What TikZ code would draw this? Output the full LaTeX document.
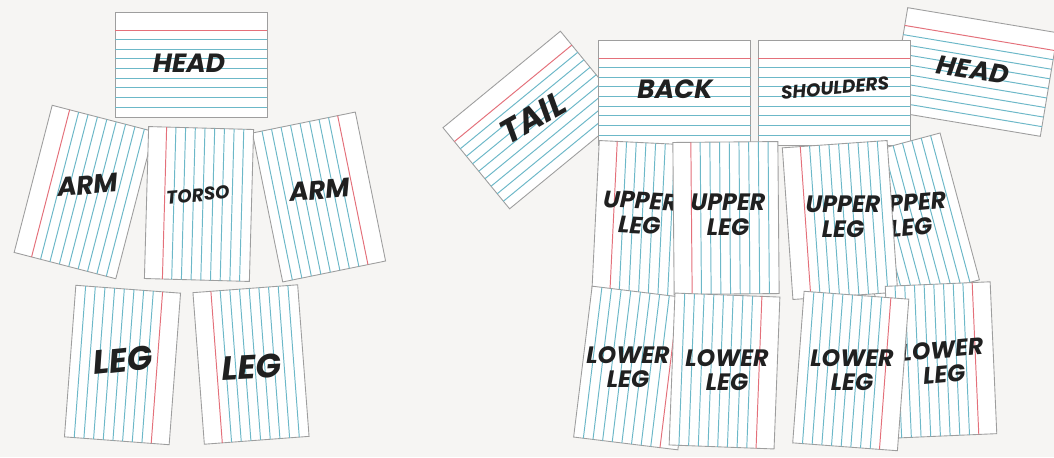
\documentclass[tikz,border=0pt]{standalone}
\usepackage{fontspec}
\newfontfamily\markerfont{Poppins}
\definecolor{deskbg}{RGB}{246,245,243}
\definecolor{cardgray}{RGB}{158,158,158}
\definecolor{rulered}{RGB}{228,112,122}
\definecolor{ruleblue}{RGB}{108,184,200}
\definecolor{inkblack}{RGB}{32,32,32}

% one index card: centre, angle (header edge is the local top)
\newcommand{\indexcard}[2]{%
  \begin{scope}[shift={#1}, rotate=#2]
    \filldraw[cardbox] (-76,-52.5) rectangle (76,52.5);
    \draw[redrule] (-76,-34.5) -- (76,-34.5);
    \foreach \k in {0,...,7}
      \draw[bluerule] (-76,-25.2+9.7*\k) -- (76,-25.2+9.7*\k);
  \end{scope}}

\begin{document}
\begin{tikzpicture}[
  x=0.02cm, y=-0.02cm,
  cardbox/.style={draw=cardgray, fill=white, line width=0.5pt},
  redrule/.style={draw=rulered, line width=0.55pt},
  bluerule/.style={draw=ruleblue, line width=0.55pt},
  ink/.style={text=inkblack, font=\markerfont\bfseries\itshape\fontsize{15}{15}\selectfont,
              inner sep=0pt, align=center},
  smallink/.style={ink, font=\markerfont\bfseries\itshape\fontsize{10.5}{12}\selectfont},
  bigink/.style={ink, font=\markerfont\bfseries\itshape\fontsize{19}{19}\selectfont},
  twoline/.style={ink, font=\markerfont\bfseries\itshape\fontsize{13.5}{14}\selectfont}]
\fill[deskbg] (0,0) rectangle (1054,457);
\useasboundingbox (0,0) rectangle (1054,457);

% left figure
\indexcard{(191,64.5)}{0}
\node[ink] (headA) at (189,63) {HEAD};
\indexcard{(84,192)}{75.5}
\node[ink, rotate=5] (armA) at (88,185) {ARM};
\indexcard{(319,197)}{-78.5}
\node[ink, rotate=5] (armB) at (320,190) {ARM};
\indexcard{(199,204)}{88.4}
\node[smallink, rotate=5] (torso) at (198,195) {TORSO};
\indexcard{(122.5,365)}{-94.3}
\node[bigink, rotate=6] (legA) at (123,360) {LEG};
\indexcard{(251,364.5)}{94.3}
\node[bigink, rotate=3] (legB) at (252,367) {LEG};

% right figure
\indexcard{(535,120)}{39.4}
\node[bigink, rotate=30] (tail) at (533,118) {TAIL};
\indexcard{(674.5,92.5)}{0}
\node[ink] (back) at (675,89) {BACK};
\indexcard{(974,72)}{-9.5}
\node[ink, rotate=-9] (headB) at (973,70) {HEAD};
\indexcard{(834,92.5)}{0}
\node[smallink, rotate=5] (shoulders) at (835,88) {SHOULDERS};

\indexcard{(909,220)}{105}
\node[twoline, rotate=5] (upperD) at (910,215) {UPPER\\LEG};
\indexcard{(648,219)}{87.2}
\node[twoline, rotate=-3] (upperA) at (640,213) {UPPER\\LEG};
\indexcard{(726,218)}{90.5}
\node[twoline] (upperB) at (728,215) {UPPER\\LEG};
\indexcard{(840,220)}{94}
\node[twoline] (upperC) at (843,217) {UPPER\\LEG};

\indexcard{(941,360)}{-87.5}
\node[twoline, rotate=5] (lowerD) at (943,362) {LOWER\\LEG};
\indexcard{(635,368)}{-97}
\node[twoline] (lowerA) at (628,367) {LOWER\\LEG};
\indexcard{(724.5,371)}{-92.2}
\node[twoline] (lowerB) at (727,370) {LOWER\\LEG};
\indexcard{(850.75,371)}{-94.3}
\node[twoline] (lowerC) at (852,370) {LOWER\\LEG};
\end{tikzpicture}
\end{document}
